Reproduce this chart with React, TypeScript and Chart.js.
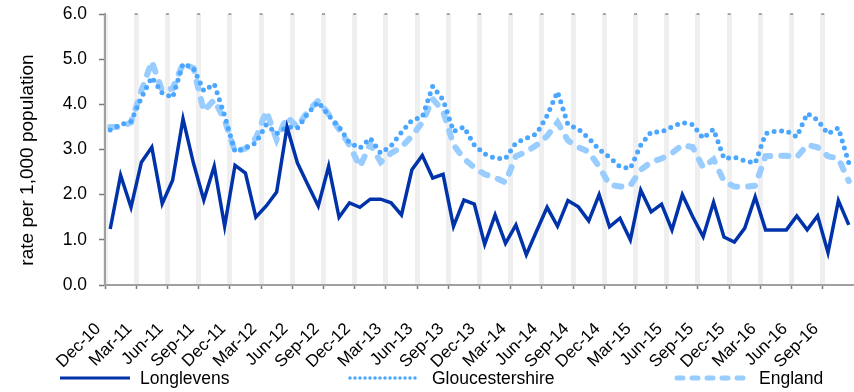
import React, { useEffect, useRef } from "react";
import { Chart, registerables } from "chart.js";

Chart.register(...registerables);

const months = [
  "Dec-10", "Jan-11", "Feb-11", "Mar-11", "Apr-11", "May-11", "Jun-11", "Jul-11", "Aug-11", "Sep-11", "Oct-11", "Nov-11",
  "Dec-11", "Jan-12", "Feb-12", "Mar-12", "Apr-12", "May-12", "Jun-12", "Jul-12", "Aug-12", "Sep-12", "Oct-12", "Nov-12",
  "Dec-12", "Jan-13", "Feb-13", "Mar-13", "Apr-13", "May-13", "Jun-13", "Jul-13", "Aug-13", "Sep-13", "Oct-13", "Nov-13",
  "Dec-13", "Jan-14", "Feb-14", "Mar-14", "Apr-14", "May-14", "Jun-14", "Jul-14", "Aug-14", "Sep-14", "Oct-14", "Nov-14",
  "Dec-14", "Jan-15", "Feb-15", "Mar-15", "Apr-15", "May-15", "Jun-15", "Jul-15", "Aug-15", "Sep-15", "Oct-15", "Nov-15",
  "Dec-15", "Jan-16", "Feb-16", "Mar-16", "Apr-16", "May-16", "Jun-16", "Jul-16", "Aug-16", "Sep-16", "Oct-16", "Nov-16",
];

const longlevens = [
  1.24, 2.43, 1.72, 2.72, 3.05, 1.8, 2.32, 3.68, 2.7, 1.88,
  2.63, 1.3, 2.65, 2.48, 1.5, 1.75, 2.06, 3.5, 2.7, 2.22,
  1.75, 2.63, 1.5, 1.82, 1.72, 1.9, 1.9, 1.82, 1.55, 2.55,
  2.87, 2.37, 2.45, 1.3, 1.88, 1.79, 0.9, 1.55, 0.92, 1.33,
  0.67, 1.2, 1.72, 1.3, 1.87, 1.73, 1.42, 2.0, 1.29, 1.48,
  1.0, 2.1, 1.62, 1.79, 1.22, 2.0, 1.51, 1.07, 1.83, 1.06,
  0.95, 1.26, 1.95, 1.22, 1.22, 1.22, 1.53, 1.22, 1.53, 0.72,
  1.87, 1.33,
];

const gloucestershire = [
  3.43, 3.55, 3.62, 4.15, 4.6, 4.25, 4.15, 4.9, 4.8, 4.3,
  4.45, 3.75, 2.95, 3.03, 3.15, 3.55, 3.35, 3.5, 3.47, 3.8,
  4.05, 3.75, 3.5, 3.15, 3.03, 3.25, 2.92, 3.08, 3.38, 3.65,
  3.72, 4.4, 4.1, 3.4, 3.5, 3.1, 2.9, 2.8, 2.8, 3.15,
  3.25, 3.35, 3.75, 4.28, 3.55, 3.45, 3.25, 3.0, 2.83, 2.62,
  2.58, 3.1, 3.39, 3.39, 3.5, 3.6, 3.55, 3.25, 3.45, 2.8,
  2.83, 2.75, 2.7, 3.35, 3.41, 3.41, 3.28, 3.8, 3.65, 3.35,
  3.48, 2.7,
];

const england = [
  3.5, 3.5, 3.6, 4.3, 4.95, 4.3, 4.35, 4.9, 4.8, 3.85,
  4.1, 3.65, 2.95, 3.02, 3.25, 3.85, 3.22, 3.72, 3.5, 3.85,
  4.08, 3.78, 3.45, 3.1, 2.62, 3.12, 2.72, 2.92, 3.05, 3.3,
  3.6, 4.12, 3.85, 3.1, 2.8, 2.6, 2.45, 2.38, 2.27, 2.85,
  2.95, 3.1, 3.3, 3.6, 3.2, 3.05, 2.95, 2.62, 2.22, 2.18,
  2.2, 2.55, 2.72, 2.8, 2.92, 3.1, 3.05, 2.6, 2.78, 2.3,
  2.18, 2.17, 2.2, 2.85, 2.86, 2.86, 2.83, 3.1, 3.05, 2.85,
  2.8, 2.3,
];

const yTicks = [0, 1, 2, 3, 4, 5, 6];
const labelEvery = 3;
const yTitle = "rate per 1,000 population";

const FONT = "'Liberation Sans', Arial, sans-serif";
const C_LONG = "#0033aa";
const C_GLOS = "#4aa6ff";
const C_ENG = "#99ccff";

const seriesStyles = [
  { name: "Longlevens", color: C_LONG, width: 3.5, dash: [] as number[], cap: "butt" as CanvasLineCap },
  { name: "Gloucestershire", color: C_GLOS, width: 5, dash: [0, 7.5], cap: "round" as CanvasLineCap },
  { name: "England", color: C_ENG, width: 6, dash: [7, 11], cap: "round" as CanvasLineCap },
];

const decorPlugin = {
  id: "decor",
  afterDraw(chart: any) {
    const ctx = chart.ctx as CanvasRenderingContext2D;
    const area = chart.chartArea;
    const xs = chart.scales.x;
    ctx.save();
    ctx.fillStyle = "#555";
    const n = months.length;
    const step = (area.right - area.left) / n;
    for (let i = labelEvery; i < n; i += labelEvery) {
      const x = xs.getPixelForValue(i) - step / 2;
      ctx.fillRect(x - 1.5, area.top - 0.5, 3, 1);
    }
    ctx.restore();

    ctx.save();
    ctx.font = `19px ${FONT}`;
    ctx.fillStyle = "#000";
    ctx.textAlign = "center";
    ctx.textBaseline = "middle";
    ctx.translate(28, 160);
    ctx.rotate(-Math.PI / 2);
    ctx.fillText(yTitle, 0, 0);
    ctx.restore();

    const ly = 378;
    const pos = [
      { x0: 60, x1: 130, tx: 140 },
      { x0: 350, x1: 419, tx: 432 },
      { x0: 677, x1: 747, tx: 759 },
    ];
    seriesStyles.forEach((s, i) => {
      const p = pos[i];
      ctx.save();
      ctx.strokeStyle = s.color;
      ctx.lineWidth = i === 0 ? 3 : i === 1 ? 3.5 : 5;
      ctx.lineCap = s.cap;
      ctx.setLineDash(i === 1 ? [0, 5] : i === 2 ? [6, 9] : []);
      ctx.beginPath();
      ctx.moveTo(p.x0, ly);
      ctx.lineTo(p.x1, ly);
      ctx.stroke();
      ctx.setLineDash([]);
      ctx.font = `17.5px ${FONT}`;
      ctx.fillStyle = "#000";
      ctx.textAlign = "left";
      ctx.textBaseline = "middle";
      ctx.fillText(s.name, p.tx, ly + 1);
      ctx.restore();
    });
  },
};

export default function App() {
  const ref = useRef<HTMLCanvasElement | null>(null);

  useEffect(() => {
    if (!ref.current) return;
    const seriesData = [longlevens, gloucestershire, england];
    const chart = new Chart(ref.current, {
      type: "line",
      data: {
        labels: months,
        datasets: seriesStyles.map((s, i) => ({
          label: s.name,
          data: seriesData[i],
          borderColor: s.color,
          backgroundColor: s.color,
          borderWidth: s.width,
          borderDash: s.dash,
          borderCapStyle: s.cap,
          borderJoinStyle: "miter" as CanvasLineJoin,
          pointRadius: 0,
          pointHoverRadius: 0,
          tension: 0,
          fill: false,
        })),
      },
      options: {
        animation: false,
        responsive: true,
        maintainAspectRatio: false,
        layout: { padding: { top: 14, left: 0, right: 0, bottom: 0 } },
        plugins: {
          legend: { display: false },
          tooltip: { enabled: false },
          title: { display: false },
        },
        scales: {
          x: {
            type: "category",
            offset: true,
            grid: {
              offset: true,
              drawOnChartArea: true,
              color: (c: any) => (c.index % labelEvery === 0 ? "#efefef" : "rgba(0,0,0,0)"),
              lineWidth: 5,
              tickColor: (c: any) => (c.index % labelEvery === 0 ? "#7a7a7a" : "rgba(0,0,0,0)"),
              tickWidth: 1.5,
              tickLength: 4,
            },
            border: { display: true, color: "#a0a0a0", width: 2 },
            ticks: {
              autoSkip: false,
              maxRotation: 45,
              minRotation: 45,
              padding: 30,
              labelOffset: -12,
              color: "#000",
              font: { family: FONT, size: 17 },
              callback: (_v: any, i: number) => (i % labelEvery === 0 ? months[i] : ""),
            },
            afterFit: (s: any) => {
              s.height = 107;
              s.paddingLeft = 0;
              s.paddingRight = 0;
            },
          },
          y: {
            min: 0,
            max: 6,
            grid: {
              drawOnChartArea: false,
              color: "#7a7a7a",
              tickColor: "#7a7a7a",
              tickLength: 6,
              tickWidth: 1.5,
            },
            border: { display: true, color: "#a0a0a0", width: 2 },
            afterBuildTicks: (s: any) => {
              s.ticks = yTicks.map((v) => ({ value: v }));
            },
            ticks: {
              padding: 12,
              color: "#000",
              font: { family: FONT, size: 17.5 },
              callback: (v: any) => Number(v).toFixed(1),
            },
            afterFit: (s: any) => {
              s.width = 105;
              s.paddingTop = 0;
              s.paddingBottom = 0;
            },
          },
        },
      },
      plugins: [decorPlugin],
    });
    return () => chart.destroy();
  }, []);

  return (
    <div style={{ position: "absolute", left: 0, top: 0, width: 854, height: 392 }}>
      <canvas ref={ref} />
    </div>
  );
}
